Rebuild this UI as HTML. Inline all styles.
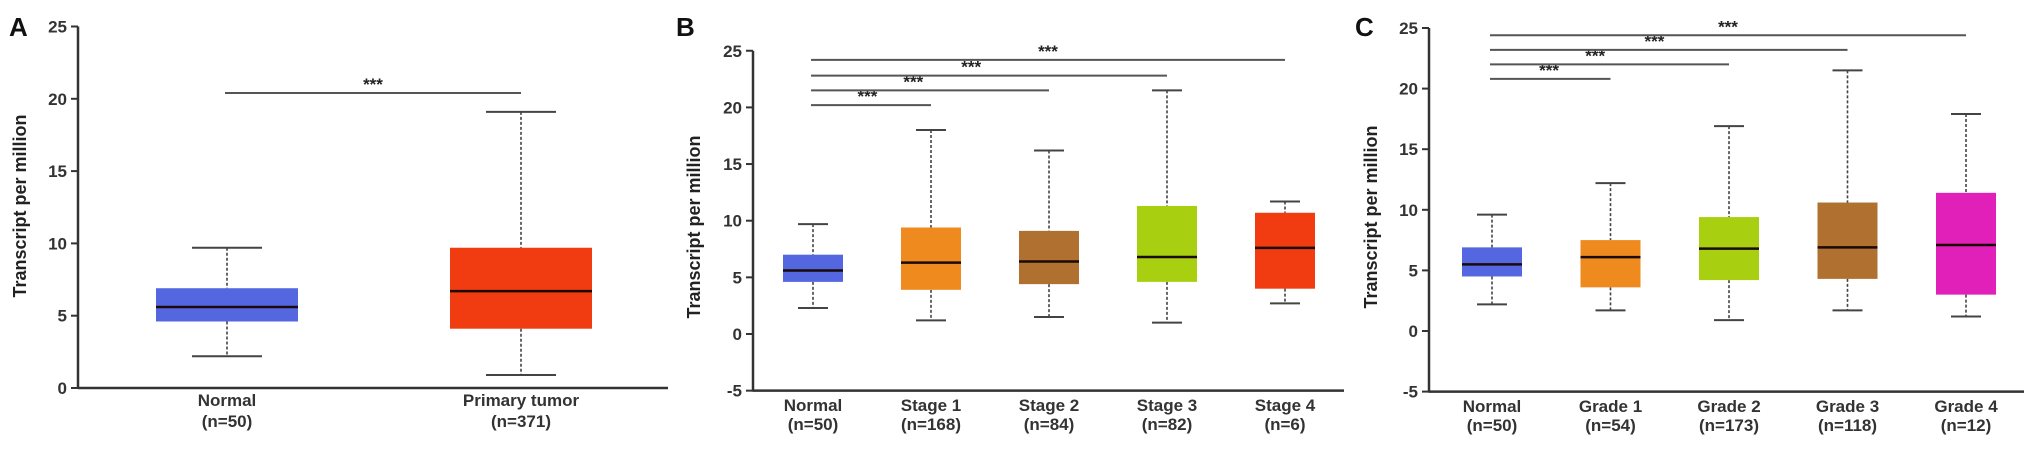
<!DOCTYPE html>
<html><head><meta charset="utf-8"><style>
html,body{margin:0;padding:0;background:#fff;}
svg{display:block;font-family:"Liberation Sans",Arial,sans-serif;}
</style></head><body>
<svg id="fig" width="2031" height="451" viewBox="0 0 2031 451"></svg>
<script>
// ---- Data ----
const catsA = ["Normal","Primary tumor"];
const nA = ["(n=50)","(n=371)"];
const hiA = [9.7,19.1], q3A = [6.9,9.7], medA = [5.6,6.7], q1A = [4.6,4.1], loA = [2.2,0.9];
const colA = ["#5466e0","#f03c10"];

const catsB = ["Normal","Stage 1","Stage 2","Stage 3","Stage 4"];
const nB = ["(n=50)","(n=168)","(n=84)","(n=82)","(n=6)"];
const hiB = [9.7,18.0,16.2,21.5,11.7], q3B = [7.0,9.4,9.1,11.3,10.7], medB = [5.6,6.3,6.4,6.8,7.6], q1B = [4.6,3.9,4.4,4.6,4.0], loB = [2.3,1.2,1.5,1.0,2.7];
const colB = ["#5466e0","#ef8a1f","#b07030","#a8d010","#f03c10"];

const catsC = ["Normal","Grade 1","Grade 2","Grade 3","Grade 4"];
const nC = ["(n=50)","(n=54)","(n=173)","(n=118)","(n=12)"];
const hiC = [9.6,12.2,16.9,21.5,17.9], q3C = [6.9,7.5,9.4,10.6,11.4], medC = [5.5,6.1,6.8,6.9,7.1], q1C = [4.5,3.6,4.2,4.3,3.0], loC = [2.2,1.7,0.9,1.7,1.2];
const colC = ["#5466e0","#ef8a1f","#a8d010","#b07030","#e020b8"];

const ticksA = [0,5,10,15,20,25];
const ticksBC = [-5,0,5,10,15,20,25];

const sigA = [20.4];
const sigB = [20.2,21.5,22.8,24.2];
const sigC = [20.8,22.0,23.2,24.4];

// ---- Drawing ----
const NS="http://www.w3.org/2000/svg";
const svg=document.getElementById('fig');
function mk(tag,attrs,parent){const e=document.createElementNS(NS,tag);for(const k in attrs)e.setAttribute(k,attrs[k]);(parent||svg).appendChild(e);return e;}

function panel(p){
  const g=mk('g',{});
  
  
  const y=v=>p.y0-(v*p.ppu);
  const x=i=>p.c0+i*p.step;
  // letter
  const L=mk('text',{x:p.lx,y:p.ly,'font-size':26,'font-weight':'bold',fill:'#111'},g);L.textContent=p.letter;
  
  
  // y title
  const T=mk('text',{x:p.tx,y:p.ty,'font-size':18,'font-weight':'bold',fill:'#222','text-anchor':'middle',transform:`rotate(-90 ${p.tx} ${p.ty})`},g);T.textContent="Transcript per million";
  
  
  // axes
  const ymin=p.ticks[0], ymax=p.ticks[p.ticks.length-1];
  const ax=mk('line',{x1:p.ax,x2:p.ax,y1:y(ymax),y2:y(ymin)+1,stroke:'#333','stroke-width':2.5},g);
  
  
  const bx=mk('line',{x1:p.ax,x2:p.xend,y1:y(ymin),y2:y(ymin),stroke:'#333','stroke-width':2.5},g);
  
  
  p.ticks.forEach(t=>{
    mk('line',{x1:p.ax-7,x2:p.ax,y1:y(t),y2:y(t),stroke:'#333','stroke-width':2},g);
    const tl=mk('text',{x:p.ax-11,y:y(t)+6,'font-size':17,'font-weight':'bold',fill:'#333','text-anchor':'end'},g);tl.textContent=t;
    
    
  });
  // boxes
  p.cats.forEach((c,i)=>{
    const cx=x(i);
    const bg=mk('g',{},g);
    
    
    mk('line',{x1:cx,x2:cx,y1:y(p.hi[i]),y2:y(p.q3[i]),stroke:'#444','stroke-width':1.6,'stroke-dasharray':'3,2'},bg);
    mk('line',{x1:cx,x2:cx,y1:y(p.q1[i]),y2:y(p.lo[i]),stroke:'#444','stroke-width':1.6,'stroke-dasharray':'3,2'},bg);
    mk('line',{x1:cx-p.cap,x2:cx+p.cap,y1:y(p.hi[i]),y2:y(p.hi[i]),stroke:'#444','stroke-width':2},bg);
    mk('line',{x1:cx-p.cap,x2:cx+p.cap,y1:y(p.lo[i]),y2:y(p.lo[i]),stroke:'#444','stroke-width':2},bg);
    mk('rect',{x:cx-p.bw,y:y(p.q3[i]),width:2*p.bw,height:y(p.q1[i])-y(p.q3[i]),fill:p.col[i]},bg);
    mk('line',{x1:cx-p.bw,x2:cx+p.bw,y1:y(p.med[i]),y2:y(p.med[i]),stroke:'#1a0a08','stroke-width':2.5},bg);
    const t1=mk('text',{x:cx,y:p.lab1,'font-size':17,'font-weight':'bold',fill:'#333','text-anchor':'middle'},g);t1.textContent=c;
    
    
    const t2=mk('text',{x:cx,y:p.lab2,'font-size':17,'font-weight':'bold',fill:'#333','text-anchor':'middle'},g);t2.textContent=p.n[i];
    
    
  });
  // significance
  p.sig.forEach((s,k)=>{
    const x1=x(0)-2, x2=x(k+1);
    const sl=mk('line',{x1:x1,x2:x2,y1:y(s),y2:y(s),stroke:'#555','stroke-width':2},g);
    
    
    const st=mk('text',{x:x1+(x2-x1)*p.starPos[k],y:y(s)-3,'font-size':17,'font-weight':'bold',fill:'#222','text-anchor':'middle'},g);st.textContent="***";
    
    
  });
}

panel({letter:'A',lx:9,ly:36,tx:26,ty:206,ax:78,xend:668,ticks:ticksA,y0:388,ppu:14.46,c0:227,step:294,bw:71,cap:35,
  cats:catsA,n:nA,hi:hiA,q3:q3A,med:medA,q1:q1A,lo:loA,col:colA,sig:sigA,starPos:[0.5],lab1:406,lab2:427});
panel({letter:'B',lx:676,ly:36,tx:700,ty:227,ax:753,xend:1344,ticks:ticksBC,y0:334,ppu:11.33,c0:813,step:118,bw:30,cap:15,
  cats:catsB,n:nB,hi:hiB,q3:q3B,med:medB,q1:q1B,lo:loB,col:colB,sig:sigB,starPos:[0.47,0.43,0.45,0.5],lab1:411,lab2:430});
panel({letter:'C',lx:1355,ly:36,tx:1377,ty:217,ax:1429,xend:2024,ticks:ticksBC,y0:331,ppu:12.12,c0:1492,step:118.5,bw:30,cap:15,
  cats:catsC,n:nC,hi:hiC,q3:q3C,med:medC,q1:q1C,lo:loC,col:colC,sig:sigC,starPos:[0.49,0.44,0.46,0.5],lab1:412,lab2:431});
</script>
</body></html>
